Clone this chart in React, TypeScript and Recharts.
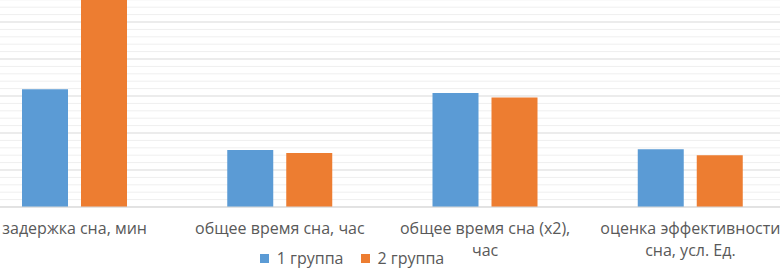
import { Bar, BarChart, CartesianGrid, Legend, XAxis, YAxis } from "recharts";

const CATEGORIES = [
  "задержка сна, мин",
  "общее время сна, час",
  "общее время сна (x2),\nчас",
  "оценка эффективности\nсна, усл. Ед.",
];
const GROUP_1 = [15.9, 7.7, 15.4, 7.8];
const GROUP_2 = [28, 7.3, 14.8, 7.0];
const Y_MAX = 30;
const MAJOR_STEP = 5;
const GRID_VALUES = [1, 2, 3, 4, 5, 6, 7, 8, 9, 10, 11, 12, 13, 14, 15, 16, 17, 18, 19, 20, 21, 22, 23, 24, 25, 26, 27, 28, 29, 30];

const data = CATEGORIES.map((name, i) => ({ name, g1: GROUP_1[i], g2: GROUP_2[i] }));

const FONT = "'Open Sans', sans-serif";
const CHART_H = 284;
const XAXIS_H = 40;
const LEGEND_H = 22;
const PLOT_H = CHART_H - XAXIS_H - LEGEND_H;

function CategoryTick(props: any) {
  const { x, y, payload } = props;
  const lines = String(payload.value).split("\n");
  return (
    <text x={x} y={y} textAnchor="middle" fill="#595959" fontSize={16} fontFamily={FONT}>
      {lines.map((line, i) => (
        <tspan key={i} x={x} dy={i === 0 ? 19 : 22}>
          {line}
        </tspan>
      ))}
    </text>
  );
}

function LegendBox(props: any) {
  const items = props.payload || [];
  return (
    <div style={{ display: "flex", justifyContent: "center", gap: 17, fontFamily: FONT, fontSize: 16, lineHeight: "22px", color: "#595959" }}>
      {items.map((it: any) => (
        <div key={it.value} style={{ display: "flex", alignItems: "center" }}>
          <span style={{ width: 9, height: 9, background: it.color, marginRight: 8, display: "inline-block" }} />
          <span>{it.value}</span>
        </div>
      ))}
    </div>
  );
}

// major lines every 5 units, lighter minor lines in between
function gridLine(props: any) {
  const { x1, x2, y1, y2, index } = props;
  const v = Math.round((Y_MAX * (PLOT_H - y1)) / PLOT_H);
  const major = v % MAJOR_STEP === 0;
  return (
    <line
      key={`g-${index}`}
      x1={x1}
      x2={x2}
      y1={y1}
      y2={y2}
      stroke={major ? "#d9d9d9" : "#efefef"}
      strokeWidth={1}
    />
  );
}

export default function App() {
  return (
    <div style={{ position: "absolute", left: 0, top: 0, width: 780, height: 269, overflow: "hidden", background: "#fff" }}>
      <div style={{ position: "absolute", left: -28, top: -15 }}>
        <BarChart
          width={821}
          height={CHART_H}
          data={data}
          margin={{ top: 0, right: 0, bottom: 0, left: 0 }}
          barSize={46}
          barGap={13}
        >
          <CartesianGrid horizontal={gridLine} vertical={false} />
          <YAxis hide domain={[0, Y_MAX]} ticks={GRID_VALUES} interval={0} />
          <XAxis
            dataKey="name"
            height={XAXIS_H}
            interval={0}
            tickLine={false}
            axisLine={{ stroke: "#d9d9d9" }}
            tick={<CategoryTick />}
          />
          <Legend wrapperStyle={{ left: 260, width: 240, height: LEGEND_H, overflow: "visible" }} content={<LegendBox />} />
          <Bar dataKey="g1" name="1 группа" fill="#5b9bd5" isAnimationActive={false} />
          <Bar dataKey="g2" name="2 группа" fill="#ed7d31" isAnimationActive={false} />
        </BarChart>
      </div>
    </div>
  );
}
